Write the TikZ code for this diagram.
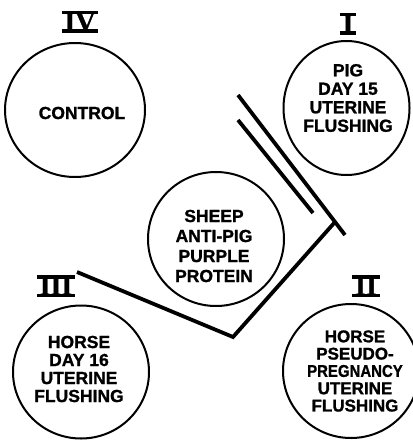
\documentclass[tikz,border=0pt]{standalone}
\usepackage{fontspec}
\setmainfont{Liberation Sans}
\newfontfamily\heavy{Liberation Sans Bold}[FakeBold=1.2]
\newfontfamily\romfont{Liberation Serif Bold}[FakeBold=1]
\usetikzlibrary{shapes.geometric}

\tikzset{
  well/.style={draw,ellipse,line width=2pt,minimum width=136pt,minimum height=134pt,inner sep=0pt},
  lbl/.style={font=\heavy\fontsize{17.5}{18.5}\selectfont,align=center,inner sep=0pt},
  numeral/.style={font=\romfont\fontsize{28}{28}\selectfont,inner xsep=2.5pt,inner ysep=0pt,text height=18pt,text depth=0pt},
  bar/.style={line width=3.4pt},
  trough/.style={line width=3.8pt}
}

\begin{document}
\begin{tikzpicture}[x=1pt,y=-1pt]
  \useasboundingbox (0,0) rectangle (412,441);
  % wells
  \node[well,minimum width=140pt] (control) at (75,110) {};
  \node[well,minimum width=126pt] (pig) at (346.5,108) {};
  \node[well] (sheep) at (216,239) {};
  \node[well,minimum height=133pt] (horseday) at (81,372) {};
  \node[well] (horsepseudo) at (351,371) {};
  \node[lbl] (tcontrol) at (82,113) {CONTROL};
  \node[lbl] (tpig) at (348,98) {PIG\\DAY 15\\UTERINE\\FLUSHING};
  \node[lbl,font=\heavy\fontsize{17.5}{20}\selectfont] (tsheep) at (214,246)
    {SHEEP\\ANTI-PIG\\PURPLE\\PROTEIN};
  \node[lbl,font=\heavy\fontsize{17.5}{18}\selectfont] (thorseday) at (79,369)
    {HORSE\\DAY 16\\UTERINE\\FLUSHING};
  \node[lbl,font=\heavy\fontsize{17}{17.3}\selectfont] (thorsepseudo) at (355,371)
    {HORSE\\PSEUDO-\\\scalebox{0.88}[1]{PREGNANCY}\\UTERINE\\FLUSHING};
  % numerals
  \node[numeral] (rIV) at (80,22) {IV};
  \node[numeral] (rI) at (348,24) {I};
  \node[numeral] (rIII) at (56,286) {III};
  \node[numeral] (rII) at (366,286) {II};
  \foreach \n in {rIV,rI,rIII,rII}
    \draw[bar] (\n.north west) -- (\n.north east) (\n.south west) -- (\n.south east);
  % troughs
  \coordinate (a1) at (238,95);
  \coordinate (a2) at (345,235);
  \coordinate (b1) at (238,120);
  \coordinate (b2) at (313,213);
  \coordinate (tee) at (335,222);
  \coordinate (vee) at (233,337);
  \coordinate (c1) at (77,272);
  \draw[trough] (a1) -- (a2);
  \draw[trough] (b1) -- (b2);
  \draw[trough] (tee) -- (vee) -- (c1);
\end{tikzpicture}
\end{document}
